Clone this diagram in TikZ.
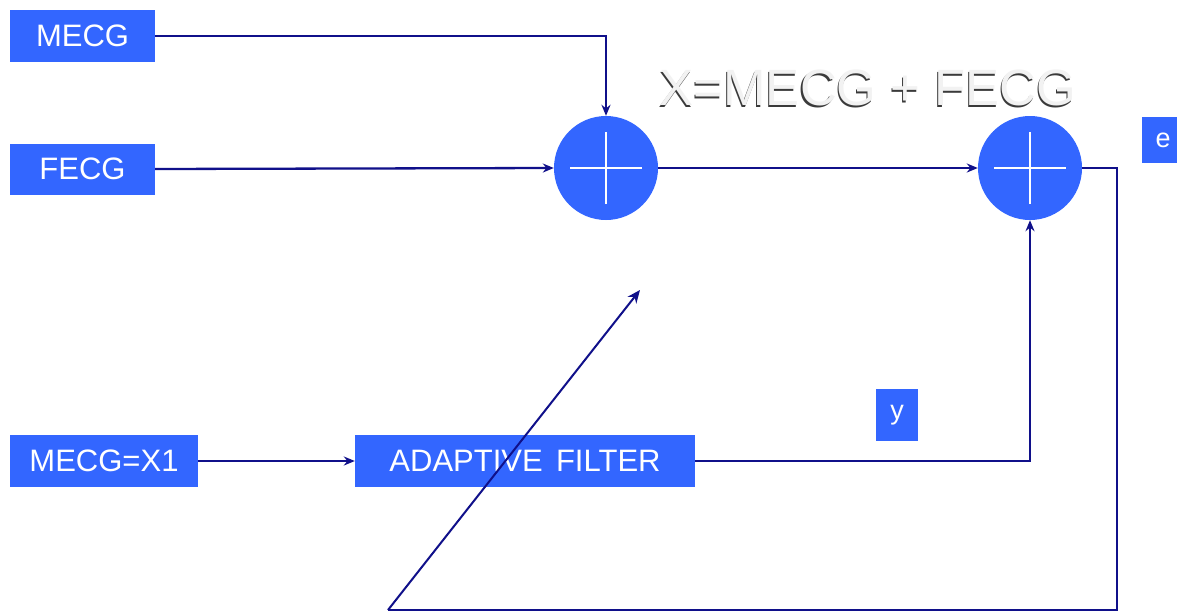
\documentclass[tikz,border=0pt]{standalone}
\usepackage{fontspec}
\setmainfont{Liberation Sans}
\usetikzlibrary{arrows.meta}
\definecolor{boxblue}{HTML}{3366FF}
\definecolor{navy}{HTML}{10108A}
\definecolor{embossdark}{HTML}{3A3A3A}
\definecolor{embosslight}{HTML}{F2F2F2}
\tikzset{
  blk/.style={fill=boxblue, draw=none, text=white, inner sep=0pt, font=\fontsize{31}{32}\selectfont},
  sumnode/.style={circle, fill=boxblue, draw=none, minimum size=104pt, inner sep=0pt},
  conn/.style={draw=navy, line width=2.3pt, -{Stealth[length=11pt,width=9pt]}},
  plain/.style={draw=navy, line width=2.3pt},
  plusline/.style={draw=white, line width=1.1pt}
}
\begin{document}
\begin{tikzpicture}[x=1pt,y=-1pt]
\useasboundingbox (0,0) rectangle (1177,613);
\fill[white] (0,0) rectangle (1177,613);
% boxes
\node[blk, minimum width=145pt, minimum height=52pt] (mecg) at (82.5,36) {MECG};
\node[blk, minimum width=145pt, minimum height=51pt] (fecg) at (82.5,169) {FECG};
\node[blk, minimum width=188pt, minimum height=52pt] (x1) at (104,461) {MECG=X1};
\node[blk, minimum width=340pt, minimum height=52pt] (af) at (525,461) {ADAPTIVE\hspace{0.15em} FILTER};
\node[blk, minimum width=42pt, minimum height=52pt, font=\fontsize{27}{28}\selectfont] (ylab) at (897,415) {y};
\node[blk, minimum width=42pt, minimum height=46pt, font=\fontsize{27}{28}\selectfont] (elab) at (1163,140) {e};
% summing junctions
\node[sumnode] (c1) at (606,168) {};
\node[sumnode] (c2) at (1030,168) {};
\draw[plusline] ([xshift=-36pt]c1.center) -- ([xshift=36pt]c1.center);
\draw[plusline] ([yshift=-36pt]c1.center) -- ([yshift=36pt]c1.center);
\draw[plusline] ([xshift=-36pt]c2.center) -- ([xshift=36pt]c2.center);
\draw[plusline] ([yshift=-36pt]c2.center) -- ([yshift=36pt]c2.center);
% equation label (embossed look)
\node[text=embossdark, font=\fontsize{51}{53}\selectfont, inner sep=0pt] at (866.5,89.5) {X=MECG + FECG};
\node[text=embosslight, font=\fontsize{51}{53}\selectfont, inner sep=0pt] (eq) at (868,88) {X=MECG + FECG};
% connectors
\draw[conn] (mecg.east) -| (c1.north);
\draw[conn] (fecg.east) -- (c1.west);
\draw[conn] (c1.east) -- (c2.west);
\draw[conn] (x1.east) -- (af.west);
\draw[conn] (af.east) -| (c2.south);
% feedback path
\coordinate (fbA) at (1117,168);
\coordinate (fbB) at (1117,610);
\coordinate (fbC) at (388,610);
\coordinate (tip) at (640,290);
\draw[plain] (c2.east) -- (fbA) -- (fbB) -- (fbC);
\draw[draw=navy, line width=2pt, -{Stealth[length=13pt,width=11pt]}] (fbC) -- (tip);
\end{tikzpicture}
\end{document}
